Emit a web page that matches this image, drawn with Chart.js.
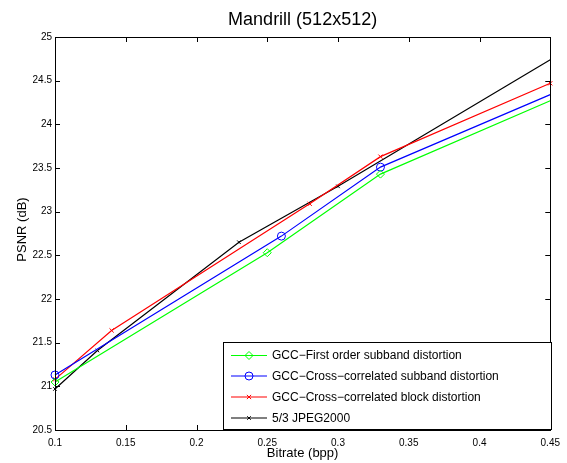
<!DOCTYPE html>
<html>
<head>
<meta charset="utf-8">
<script src="https://cdn.jsdelivr.net/npm/chart.js@4.4.1/dist/chart.umd.min.js"></script>
<style>
  html, body { margin: 0; padding: 0; background: #fff; }
  #wrap { width: 567px; height: 463px; }
</style>
</head>
<body>
<div id="wrap"><canvas id="c" width="567" height="463"></canvas></div>
<script>
// ---- data ----
const chartTitle = "Mandrill (512x512)";
const xTitle = "Bitrate (bpp)";
const yTitle = "PSNR (dB)";
const xTicks = [0.1, 0.15, 0.2, 0.25, 0.3, 0.35, 0.4, 0.45];
const yTicks = [20.5, 21, 21.5, 22, 22.5, 23, 23.5, 24, 24.5, 25];

const seriesNames = [
  "GCC\u2212First order subband distortion",
  "GCC\u2212Cross\u2212correlated subband distortion",
  "GCC\u2212Cross\u2212correlated block distortion",
  "5/3 JPEG2000"
];
const greenX = [0.1, 0.25, 0.33, 0.45];
const greenY = [21.05, 22.53, 23.43, 24.27];
const blueX  = [0.1, 0.26, 0.33, 0.45];
const blueY  = [21.13, 22.72, 23.51, 24.34];
const redX   = [0.1, 0.14, 0.28, 0.33, 0.45];
const redY   = [21.08, 21.64, 23.09, 23.63, 24.47];
const blackX = [0.1, 0.13, 0.23, 0.30, 0.45];
const blackY = [20.97, 21.41, 22.65, 23.29, 24.74];

const FONT = "'Liberation Sans', Arial, Helvetica, sans-serif";
const pts = (xs, ys) => xs.map((x, i) => ({ x: x, y: ys[i] }));

const styles = [
  { color: '#00ff00', style: 'rectRot', radius: 4 },
  { color: '#0000ff', style: 'circle', radius: 4 },
  { color: '#ff0000', style: 'crossRot', radius: 3 },
  { color: '#000000', style: 'crossRot', radius: 2.5 }
];
const lastHidden = (n, r) => Array.from({ length: n }, (_, i) => i === n - 1 ? 0 : r);

const datasets = [
  { data: pts(greenX, greenY), radii: lastHidden(greenX.length, styles[0].radius) },
  { data: pts(blueX, blueY), radii: lastHidden(blueX.length, styles[1].radius) },
  { data: pts(redX, redY), radii: redX.map(() => styles[2].radius) },
  { data: pts(blackX, blackY), radii: lastHidden(blackX.length, styles[3].radius) }
].map((d, i) => ({
  label: seriesNames[i],
  data: d.data,
  borderColor: styles[i].color,
  backgroundColor: 'rgba(0,0,0,0)',
  pointBorderColor: styles[i].color,
  pointBackgroundColor: 'rgba(0,0,0,0)',
  pointStyle: styles[i].style,
  pointRadius: d.radii,
  pointBorderWidth: 1,
  borderWidth: 1.2,
  tension: 0,
  clip: 6
}));

const fmt = v => String(Math.round(v * 1000) / 1000);

const decor = {
  id: 'decor',
  afterDatasetsDraw(chart) {
    const ctx = chart.ctx;
    const a = chart.chartArea;
    const xs = chart.scales.x, ys = chart.scales.y;
    ctx.save();
    ctx.strokeStyle = '#000';
    ctx.lineWidth = 1;
    // box
    ctx.strokeRect(Math.round(a.left) + 0.5, Math.round(a.top) + 0.5,
                   Math.round(a.right - a.left), Math.round(a.bottom - a.top));
    // ticks inside
    const TL = 5;
    ctx.beginPath();
    xTicks.forEach(v => {
      const px = Math.round(xs.getPixelForValue(v)) + 0.5;
      ctx.moveTo(px, a.bottom); ctx.lineTo(px, a.bottom - TL);
      ctx.moveTo(px, a.top); ctx.lineTo(px, a.top + TL);
    });
    yTicks.forEach(v => {
      const py = Math.round(ys.getPixelForValue(v)) + 0.5;
      ctx.moveTo(a.left, py); ctx.lineTo(a.left + TL, py);
      ctx.moveTo(a.right, py); ctx.lineTo(a.right - TL, py);
    });
    ctx.stroke();

    // titles
    ctx.fillStyle = '#000';
    ctx.textAlign = 'center';
    ctx.textBaseline = 'middle';
    ctx.font = '18px ' + FONT;
    ctx.fillText(chartTitle, (a.left + a.right) / 2, 20);
    ctx.font = '13px ' + FONT;
    ctx.fillText(xTitle, (a.left + a.right) / 2, 453);
    ctx.save();
    ctx.translate(22, (a.top + a.bottom) / 2 - 4);
    ctx.rotate(-Math.PI / 2);
    ctx.fillText(yTitle, 0, 0);
    ctx.restore();

    // legend
    const L = { x: 223, y: 342, w: 329, h: 88 };
    ctx.fillStyle = '#fff';
    ctx.fillRect(L.x, L.y, L.w, L.h);
    ctx.strokeStyle = '#000';
    ctx.lineWidth = 1;
    ctx.strokeRect(L.x + 0.5, L.y + 0.5, L.w - 1, L.h - 1);
    const rowsY = [355, 375.5, 396.5, 417.5];
    ctx.font = '12px ' + FONT;
    ctx.textAlign = 'left';
    ctx.textBaseline = 'middle';
    chart.data.datasets.forEach((ds, i) => {
      const y = rowsY[i];
      ctx.strokeStyle = styles[i].color;
      ctx.lineWidth = 1.2;
      ctx.beginPath();
      ctx.moveTo(231, y + 0.5); ctx.lineTo(267, y + 0.5);
      ctx.stroke();
      ctx.fillStyle = 'rgba(0,0,0,0)';
      ctx.strokeStyle = styles[i].color;
      ctx.lineWidth = 1;
      Chart.helpers.drawPoint(ctx, {
        pointStyle: styles[i].style,
        radius: styles[i].radius,
        borderWidth: 1,
        rotation: 0
      }, 249, y + 0.5);
      ctx.fillStyle = '#000';
      ctx.fillText(ds.label, 272, y + 1);
    });
    ctx.restore();
  }
};

new Chart(document.getElementById('c'), {
  type: 'line',
  data: { datasets: datasets },
  options: {
    responsive: false,
    animation: false,
    devicePixelRatio: 1,
    layout: { padding: { left: 0, top: 37, right: 15, bottom: 0 } },
    plugins: { legend: { display: false }, title: { display: false }, tooltip: { enabled: false } },
    scales: {
      x: {
        type: 'linear',
        min: xTicks[0], max: xTicks[xTicks.length - 1],
        afterBuildTicks: s => { s.ticks = xTicks.map(v => ({ value: v })); },
        afterFit: s => { s.height = 33; },
        grid: { display: false, drawTicks: false },
        border: { display: false },
        ticks: {
          autoSkip: false, maxRotation: 0, padding: 7,
          color: '#000', font: { family: FONT, size: 10 },
          callback: v => fmt(v)
        }
      },
      y: {
        type: 'linear',
        min: yTicks[0], max: yTicks[yTicks.length - 1],
        afterBuildTicks: s => { s.ticks = yTicks.map(v => ({ value: v })); },
        afterFit: s => { s.width = 55; },
        grid: { display: false, drawTicks: false },
        border: { display: false },
        ticks: {
          autoSkip: false, padding: 3,
          color: '#000', font: { family: FONT, size: 10 },
          callback: v => fmt(v)
        }
      }
    }
  },
  plugins: [decor]
});
</script>
</body>
</html>
